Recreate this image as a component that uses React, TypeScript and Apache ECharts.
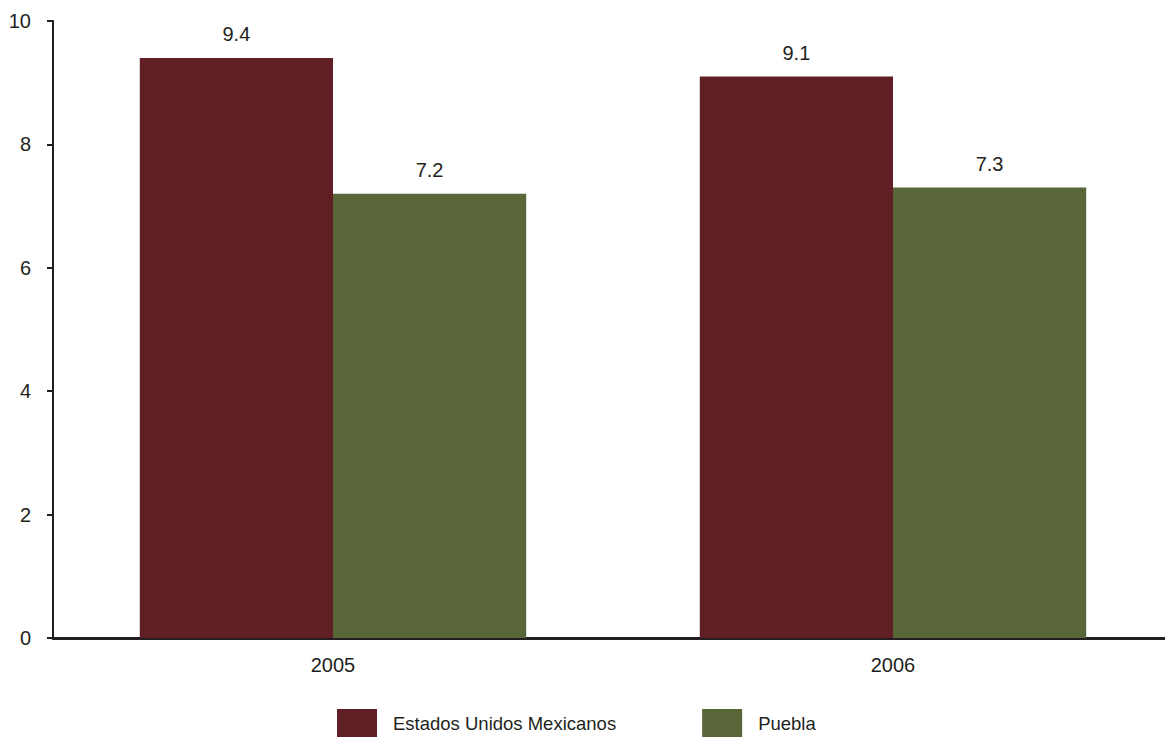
import React, { useEffect, useRef } from "react";
import * as echarts from "echarts";

const categories = ["2005", "2006"];
const mexico = [9.4, 9.1];
const puebla = [7.2, 7.3];
const seriesNames = ["Estados Unidos Mexicanos", "Puebla"];

export default function App() {
  const ref = useRef<HTMLDivElement>(null);
  useEffect(() => {
    const chart = echarts.init(ref.current!, undefined, { renderer: "svg" });
    const font = "Liberation Sans, Arial, sans-serif";
    const textColor = "#231f20";
    chart.setOption({
      animation: false,
      textStyle: { fontFamily: font },
      grid: { left: 53, right: 7, top: 21, bottom: 99, containLabel: false },
      legend: {
        left: 337,
        top: 709,
        padding: 0,
        itemWidth: 40,
        itemHeight: 28,
        itemGap: 86,
        icon: "rect",
        textStyle: { fontSize: 18.5, color: textColor, fontFamily: font, padding: [3, 0, 0, 11] },
        data: seriesNames,
      },
      xAxis: {
        type: "category",
        data: categories,
        axisLine: { lineStyle: { color: textColor, width: 3 } },
        axisTick: { show: false },
        axisLabel: { fontSize: 20, color: textColor, margin: 17, fontFamily: font },
      },
      yAxis: {
        type: "value",
        min: 0,
        max: 10,
        interval: 2,
        splitLine: { show: false },
        axisLine: { show: true, lineStyle: { color: textColor, width: 2 } },
        axisTick: { show: true, length: 6, lineStyle: { color: textColor, width: 2 } },
        axisLabel: { fontSize: 20, color: textColor, margin: 22, fontFamily: font },
      },
      series: [
        {
          name: seriesNames[0],
          type: "bar",
          data: mexico,
          barGap: "0%",
          barCategoryGap: "31%",
          itemStyle: { color: "#5f1f25" },
          label: { show: true, position: "top", distance: 14, fontSize: 20, color: textColor, fontFamily: font },
        },
        {
          name: seriesNames[1],
          type: "bar",
          data: puebla,
          barGap: "0%",
          barCategoryGap: "31%",
          itemStyle: { color: "#596638" },
          label: { show: true, position: "top", distance: 14, fontSize: 20, color: textColor, fontFamily: font },
        },
      ],
    });
    return () => chart.dispose();
  }, []);
  return (
    <div style={{ position: "absolute", left: 0, top: 0, width: 1165, height: 737, overflow: "hidden" }}>
      <div ref={ref} style={{ width: 1180, height: 737 }} />
    </div>
  );
}
